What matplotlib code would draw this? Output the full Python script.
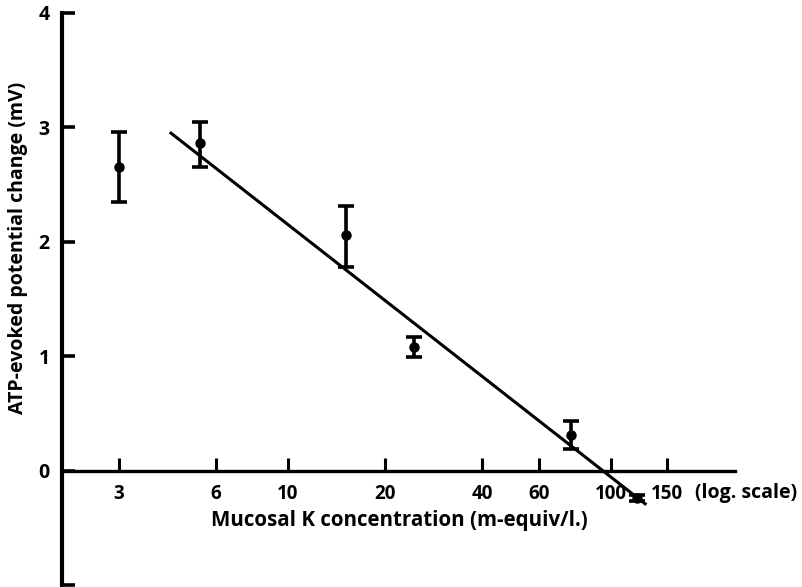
import matplotlib
matplotlib.use("Agg")
import matplotlib.pyplot as plt
import matplotlib.transforms as mtransforms

# Data
k_conc = [3.0, 5.35, 15.2, 24.7, 75.5, 121.0]
dv_mean = [2.65, 2.86, 2.06, 1.08, 0.31, -0.24]
dv_upper = [2.96, 3.05, 2.31, 1.17, 0.43, -0.21]
dv_lower = [2.35, 2.65, 1.78, 0.99, 0.19, -0.27]

fit_x = [4.35, 128.0]
fit_y = [2.95, -0.29]

x_ticks = [3, 6, 10, 20, 40, 60, 100, 150]
x_tick_labels = ["3", "6", "10", "20", "40", "60", "100", "150"]
y_ticks = [-1, 0, 1, 2, 3, 4]
y_tick_labels = ["", "0", "1", "2", "3", "4"]

plt.rcParams['font.family'] = ['Open Sans', 'DejaVu Sans']

fig = plt.figure(figsize=(8.02, 5.87), dpi=100)
ax = fig.add_axes([62/802, 1 - 585/587, 673/802, 572/587])
ax.set_xscale('log')
ax.set_xlim(2.0, 243)
ax.set_ylim(-1.0, 4.0)

yerr = [[m - lo for m, lo in zip(dv_mean, dv_lower)],
        [hi - m for m, hi in zip(dv_mean, dv_upper)]]
ax.errorbar(k_conc, dv_mean, yerr=yerr, fmt='o', color='black',
            markersize=6.5, elinewidth=2.6, capsize=6, capthick=2.6, zorder=3)
ax.plot(fit_x, fit_y, color='black', linewidth=2.2, zorder=2)

for s in ['top', 'right']:
    ax.spines[s].set_visible(False)
ax.spines['left'].set_linewidth(3.0)
ax.spines['bottom'].set_position(('data', 0))
ax.spines['bottom'].set_linewidth(2.4)

ax.set_xticks(x_ticks)
ax.set_xticklabels(x_tick_labels)
ax.xaxis.set_minor_locator(matplotlib.ticker.NullLocator())
ax.set_yticks(y_ticks)
ax.set_yticklabels(y_tick_labels)

ax.tick_params(axis='x', direction='in', length=9.5, width=2.2, pad=10,
               labelsize=13.5)
ax.tick_params(axis='y', direction='in', length=9.5, width=2.6, pad=9,
               labelsize=14)
for lab in ax.get_xticklabels() + ax.get_yticklabels():
    lab.set_fontweight('bold')

trans = mtransforms.blended_transform_factory(ax.transAxes, ax.transData)
ax.text(0.502, -0.44, "Mucosal K concentration (m-equiv/l.)", transform=trans,
        ha='center', va='center', fontsize=14.8, fontweight='bold')
ax.text(183, -0.20, "(log. scale)", ha='left', va='center', fontsize=14,
        fontweight='bold')

ax.set_ylabel("ATP-evoked potential change (mV)", fontsize=14,
              fontweight='bold')
ax.yaxis.set_label_coords(-0.05, 0.589)

fig.savefig("out.png", dpi=100)
